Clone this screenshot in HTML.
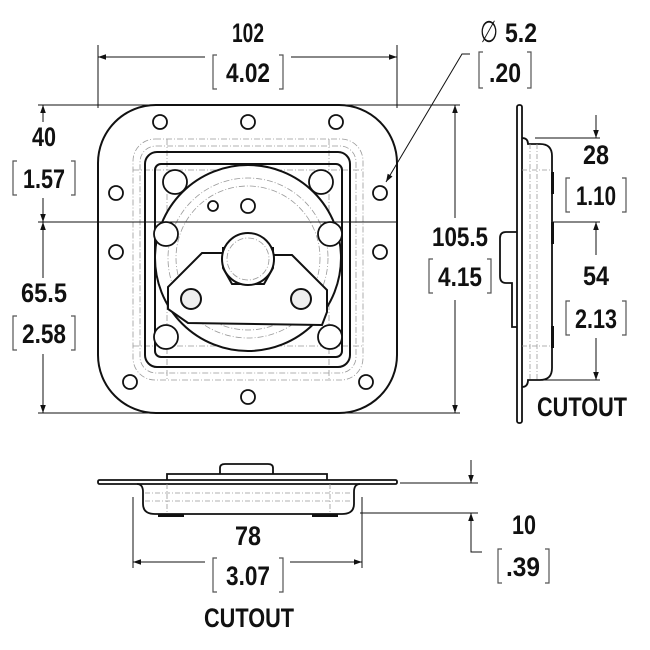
<!DOCTYPE html>
<html><head><meta charset="utf-8"><style>
html,body{margin:0;padding:0;background:#fff;width:650px;height:650px;overflow:hidden}
svg{display:block}
text{font-family:"Liberation Sans",sans-serif;font-weight:bold;font-size:27px;fill:#111;text-anchor:middle}
</style></head><body>
<svg width="650" height="650" viewBox="0 0 650 650" xmlns="http://www.w3.org/2000/svg">
<defs>
<marker id="a" viewBox="0 0 10 10" refX="10" refY="5" markerWidth="10" markerHeight="8" markerUnits="userSpaceOnUse" orient="auto-start-reverse"><path d="M0,1.5 L10,5 L0,8.5z" fill="#111"/></marker>
</defs>
<g fill="none" stroke="#111" stroke-width="1">
<line x1="98" y1="45" x2="98" y2="108"/>
<line x1="397" y1="45" x2="397" y2="108"/>
<line x1="38" y1="105" x2="460" y2="105"/>
<line x1="38" y1="413" x2="460" y2="413"/>
<line x1="38" y1="222" x2="397" y2="222"/>
<line x1="98" y1="57" x2="205" y2="57" marker-start="url(#a)"/>
<line x1="291" y1="57" x2="397" y2="57" marker-end="url(#a)"/>
<line x1="43" y1="105" x2="43" y2="122" marker-start="url(#a)"/>
<line x1="43" y1="198" x2="43" y2="222" marker-end="url(#a)"/>
<line x1="43" y1="222" x2="43" y2="278" marker-start="url(#a)"/>
<line x1="43" y1="354" x2="43" y2="413" marker-end="url(#a)"/>
<line x1="455" y1="105" x2="455" y2="218" marker-start="url(#a)"/>
<line x1="455" y1="300" x2="455" y2="413" marker-end="url(#a)"/>
<polyline points="470,54 462,54 386,182" marker-end="url(#a)"/>
</g>
<g fill="none" stroke="#999" stroke-width="0.8" stroke-dasharray="6,2,1,2">
<rect x="133" y="139" width="230" height="241" rx="22"/>
<rect x="140" y="146" width="216" height="227" rx="16"/>
<line x1="167" y1="139" x2="167" y2="380"/><line x1="329" y1="139" x2="329" y2="380"/>
<line x1="133" y1="170" x2="363" y2="170"/><line x1="133" y1="346" x2="363" y2="346"/>
</g>
<g fill="none" stroke="#111" stroke-width="2">
<rect x="98" y="105" width="299" height="308" rx="58"/>
<rect x="145" y="152" width="205" height="215" rx="12"/>
<rect x="155" y="164" width="187" height="193" rx="6"/>
<circle cx="248" cy="258" r="93" fill="#fff"/>
<g fill="none" stroke="#999" stroke-width="0.8" stroke-dasharray="6,2,1,2">
<circle cx="248" cy="258" r="80"/><circle cx="248" cy="258" r="72"/>
</g>
<g stroke-width="1.8">
<circle cx="160" cy="122" r="7"/><circle cx="248" cy="122" r="7"/><circle cx="336" cy="122" r="7"/>
<circle cx="116" cy="193" r="7"/><circle cx="380" cy="193" r="7"/>
<circle cx="116" cy="252" r="7"/><circle cx="380" cy="252" r="7"/>
<circle cx="130" cy="382" r="7"/><circle cx="366" cy="382" r="7"/><circle cx="248" cy="397" r="7"/>
<circle cx="175" cy="182" r="12" fill="#fff"/><circle cx="321" cy="182" r="12" fill="#fff"/>
<circle cx="166" cy="234" r="12" fill="#fff"/><circle cx="330" cy="234" r="12" fill="#fff"/>
<circle cx="166" cy="337" r="12" fill="#fff"/><circle cx="330" cy="337" r="12" fill="#fff"/>
<circle cx="213" cy="206" r="5"/><circle cx="248" cy="206" r="7"/>
</g>
<polygon points="202,253 232,253 264,255 292,255 327,290 327,312 322,325 188,323 168,309 168,287" fill="#fff"/>
<path d="M223,247 L223,268 L232,284 L264,284 L273,268 L273,247" fill="#fff"/>
<circle cx="248" cy="259" r="26" fill="#fff"/>
<circle cx="248" cy="259" r="21" stroke="#999" stroke-width="0.8" stroke-dasharray="6,2,1,2"/>
<circle cx="191" cy="299" r="10" fill="#eee"/><circle cx="301" cy="299" r="10" fill="#eee"/>
</g>
<line x1="98" y1="222" x2="397" y2="222" stroke="#111" stroke-width="1"/>
<g fill="none" stroke="#111" stroke-width="1.8">
<rect x="517" y="105" width="5" height="318" rx="2"/>
<path d="M522,138 Q528,138 528,144 L540,144 Q552,144 552,156 L552,368 Q552,380 540,380 L528,380 Q528,387 522,387"/>
<path d="M517,232 L506,232 Q500,232 500,238 L500,276 Q500,283 506,283 L512,283 L512,327 L517,327"/>
</g>
<g stroke="#999" stroke-width="0.8" stroke-dasharray="5,2,1,2" fill="none">
<line x1="530" y1="144" x2="530" y2="380"/><line x1="537" y1="144" x2="537" y2="380"/>
<line x1="522" y1="170" x2="552" y2="170"/><line x1="522" y1="346" x2="552" y2="346"/>
</g>
<g fill="#111"><rect x="551" y="172" width="3" height="22"/><rect x="551" y="222" width="3" height="22"/><rect x="551" y="326" width="3" height="22"/></g>
<g fill="none" stroke="#111" stroke-width="1">
<line x1="535" y1="138" x2="600" y2="138"/>
<line x1="553" y1="222" x2="600" y2="222"/>
<line x1="535" y1="380" x2="600" y2="380"/>
<line x1="596" y1="115" x2="596" y2="138" marker-end="url(#a)"/>
<line x1="596" y1="222" x2="596" y2="255" marker-start="url(#a)"/>
<line x1="596" y1="338" x2="596" y2="380" marker-end="url(#a)"/>
</g>
<g fill="none" stroke="#111" stroke-width="1.8">
<rect x="98" y="480" width="299" height="4" rx="1.5"/>
<path d="M137,484 Q143,484 143,492 L143,504 Q143,514 155,514 L342,514 Q354,514 354,504 L354,492 Q354,484 360,484"/>
<path d="M167,480 L167,474 L327,474 L327,480"/>
<path d="M220,474 L220,468 Q220,464 225,464 L268,464 Q273,464 273,468 L273,474"/>
</g>
<g stroke="#999" stroke-width="0.8" stroke-dasharray="5,2,1,2" fill="none">
<line x1="145" y1="493" x2="352" y2="493"/><line x1="145" y1="501" x2="352" y2="501"/>
<line x1="167" y1="484" x2="167" y2="514"/><line x1="330" y1="484" x2="330" y2="514"/>
</g>
<g fill="#111"><rect x="158" y="514" width="26" height="3"/><rect x="312" y="514" width="26" height="3"/></g>
<g fill="none" stroke="#111" stroke-width="1">
<line x1="133" y1="497" x2="133" y2="568"/><line x1="362" y1="497" x2="362" y2="568"/>
<line x1="133" y1="562" x2="205" y2="562" marker-start="url(#a)"/>
<line x1="290" y1="562" x2="362" y2="562" marker-end="url(#a)"/>
<line x1="400" y1="483" x2="478" y2="483"/>
<line x1="360" y1="513" x2="478" y2="513"/>
<line x1="471" y1="460" x2="471" y2="483" marker-end="url(#a)"/>
<polyline points="482,552 471,552 471,513" marker-end="url(#a)"/>
</g>
<g fill="none" stroke="#555" stroke-width="1.2">
<path d="M217,55 h-4 v34 h4 M279,55 h4 v34 h-4"/>
<path d="M483,52 h-4 v36 h4 M527,52 h4 v36 h-4"/>
<path d="M17,161 h-4 v34 h4 M71,161 h4 v34 h-4"/>
<path d="M17,316 h-4 v34 h4 M71,316 h4 v34 h-4"/>
<path d="M433,259 h-4 v34 h4 M487,259 h4 v34 h-4"/>
<path d="M570,178 h-4 v34 h4 M622,178 h4 v34 h-4"/>
<path d="M570,301 h-4 v34 h4 M622,301 h4 v34 h-4"/>
<path d="M217,558 h-4 v34 h4 M279,558 h4 v34 h-4"/>
<path d="M502,549 h-4 v34 h4 M545,549 h4 v34 h-4"/>
</g>
<text x="248" y="42" textLength="32" lengthAdjust="spacingAndGlyphs">102</text>
<text x="248" y="82" textLength="44" lengthAdjust="spacingAndGlyphs">4.02</text>
<text x="489" y="42" style="font-weight:normal;font-size:30px" textLength="18" lengthAdjust="spacingAndGlyphs">∅</text>
<text x="521" y="42" textLength="32" lengthAdjust="spacingAndGlyphs">5.2</text>
<text x="505" y="82" textLength="32" lengthAdjust="spacingAndGlyphs">.20</text>
<text x="44" y="146" textLength="24" lengthAdjust="spacingAndGlyphs">40</text>
<text x="44" y="188" textLength="42" lengthAdjust="spacingAndGlyphs">1.57</text>
<text x="44" y="302" textLength="46" lengthAdjust="spacingAndGlyphs">65.5</text>
<text x="44" y="343" textLength="44" lengthAdjust="spacingAndGlyphs">2.58</text>
<text x="460" y="246" textLength="56" lengthAdjust="spacingAndGlyphs">105.5</text>
<text x="460" y="286" textLength="44" lengthAdjust="spacingAndGlyphs">4.15</text>
<text x="596" y="164" textLength="26" lengthAdjust="spacingAndGlyphs">28</text>
<text x="596" y="205" textLength="40" lengthAdjust="spacingAndGlyphs">1.10</text>
<text x="596" y="285" textLength="26" lengthAdjust="spacingAndGlyphs">54</text>
<text x="596" y="328" textLength="42" lengthAdjust="spacingAndGlyphs">2.13</text>
<text x="582" y="416" textLength="90" lengthAdjust="spacingAndGlyphs">CUTOUT</text>
<text x="248" y="545" textLength="26" lengthAdjust="spacingAndGlyphs">78</text>
<text x="248" y="585" textLength="44" lengthAdjust="spacingAndGlyphs">3.07</text>
<text x="249" y="627" textLength="90" lengthAdjust="spacingAndGlyphs">CUTOUT</text>
<text x="524" y="534" textLength="24" lengthAdjust="spacingAndGlyphs">10</text>
<text x="523" y="576" textLength="34" lengthAdjust="spacingAndGlyphs">.39</text>
</svg>
</body></html>
